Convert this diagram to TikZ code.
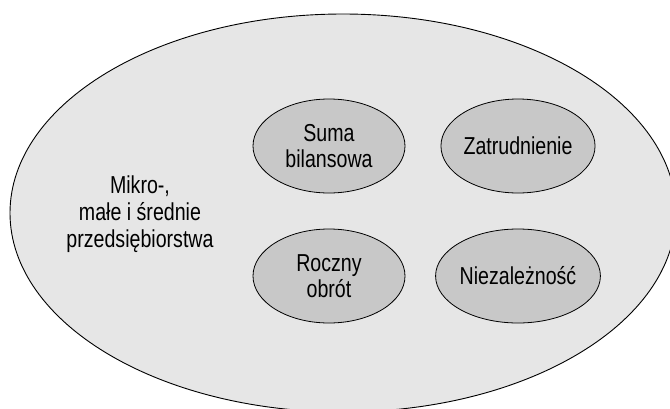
\documentclass[tikz,border=0pt]{standalone}
\usepackage{fontspec}
\setmainfont{Liberation Sans}[FakeStretch=0.8]
\usetikzlibrary{shapes.geometric}
\definecolor{outerfill}{RGB}{230,230,230}
\definecolor{innerfill}{RGB}{200,200,200}
\begin{document}
\begin{tikzpicture}[x=1pt,y=-1pt,
  outerell/.style={ellipse, draw=black, line width=0.9pt, fill=outerfill, inner sep=0pt},
  innerell/.style={ellipse, draw=black, line width=0.8pt, fill=innerfill, inner sep=0pt,
    minimum width=152pt, minimum height=94pt, align=center,
    font=\fontsize{24.5}{26}\selectfont},
  lbl/.style={align=center, font=\fontsize{24.5}{27}\selectfont}]
\useasboundingbox (0,0) rectangle (670,408);
\begin{scope}
\clip (0,0) rectangle (670,408);
\node[outerell, minimum width=666pt, minimum height=398pt] (outer) at (343,213) {};
\end{scope}
\node[lbl] (sme) at (140,214) {Mikro-,\\małe i średnie\\przedsiębiorstwa};
\node[innerell] (suma) at (329,146) {Suma\\bilansowa};
\node[innerell] (zatr) at (518,146) {Zatrudnienie};
\node[innerell] (rocz) at (329,276) {Roczny\\obrót};
\node[innerell] (niez) at (518,276) {Niezależność};
\end{tikzpicture}
\end{document}
